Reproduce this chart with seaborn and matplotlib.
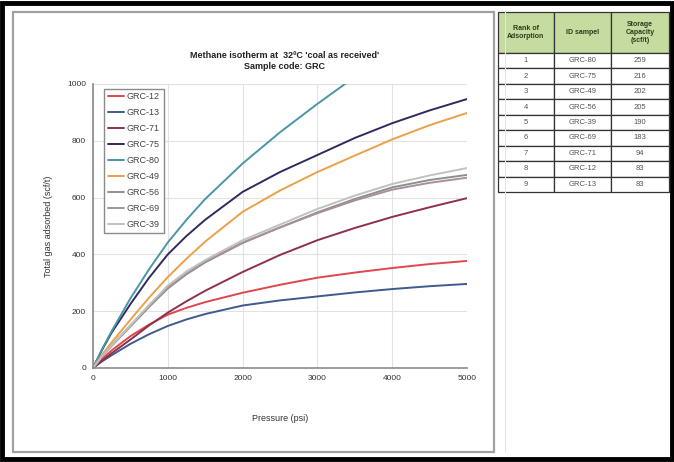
import matplotlib
matplotlib.use("Agg")
import matplotlib.pyplot as plt
import pandas as pd
import seaborn as sns
from matplotlib.patches import Rectangle

# pressure steps (psi)
pressure = [0, 125, 250, 500, 750, 1000, 1250, 1500, 2000, 2500, 3000, 3500, 4000, 4500, 5000]

# adsorbed gas (scf/t)
grc12 = [0, 33, 62, 112, 153, 188, 212, 232, 265, 293, 318, 336, 352, 366, 377]
grc13 = [0, 24, 45, 85, 119, 148, 171, 190, 220, 238, 252, 266, 278, 288, 296]
grc71 = [0, 27, 52, 100, 150, 195, 235, 272, 338, 398, 450, 493, 532, 566, 598]
grc75 = [0, 66, 125, 225, 318, 400, 465, 522, 620, 690, 750, 810, 862, 907, 947]
grc80 = [0, 68, 130, 245, 348, 442, 522, 595, 720, 830, 930, 1025, None, None, None]
grc49 = [0, 48, 90, 170, 248, 320, 385, 445, 550, 625, 690, 748, 805, 855, 898]
grc56 = [0, 42, 78, 146, 215, 280, 330, 372, 440, 495, 548, 595, 636, 662, 680]
grc69 = [0, 43, 80, 150, 220, 285, 333, 375, 442, 495, 545, 590, 628, 652, 670]
grc39 = [0, 43, 80, 150, 222, 290, 340, 380, 450, 505, 560, 607, 648, 678, 704]

series = {
    "GRC-12": grc12, "GRC-13": grc13, "GRC-71": grc71, "GRC-75": grc75,
    "GRC-80": grc80, "GRC-49": grc49, "GRC-56": grc56, "GRC-69": grc69,
    "GRC-39": grc39,
}
colors = ["#e0474c", "#3f5a8f", "#8e2f4f", "#2f2b5f", "#4a96a6",
          "#eba04a", "#8f8f8f", "#a88f9e", "#bfc3bb"]

# ranking table
rank = ["1", "2", "3", "4", "5", "6", "7", "8", "9"]
sample_id = ["GRC-80", "GRC-75", "GRC-49", "GRC-56", "GRC-39",
             "GRC-69", "GRC-71", "GRC-12", "GRC-13"]
capacity = ["259", "216", "202", "205", "190", "183", "94", "83", "83"]

rows = []
for name, vals in series.items():
    for p, v in zip(pressure, vals):
        if v is not None:
            rows.append({"Pressure": p, "Gas": v, "Sample": name})
df = pd.DataFrame(rows)

sns.set_style("white")
plt.rcParams["font.family"] = ["Liberation Sans", "DejaVu Sans"]

W, H = 674, 462
fig = plt.figure(figsize=(W / 100, H / 100), dpi=100)

# outer black frame and grey chart panel
fig.patches.append(Rectangle((2 / W, 3 / H), 670 / W, 456 / H, transform=fig.transFigure,
                             fill=False, edgecolor="black", linewidth=3.5))
fig.patches.append(Rectangle((13 / W, 1 - 452 / H), 481 / W, 440 / H, transform=fig.transFigure,
                             fill=False, edgecolor="#a0a0a0", linewidth=1.6))
fig.add_artist(plt.Line2D([505 / W, 505 / W], [1 - 452 / H, 1 - 10 / H],
                          transform=fig.transFigure, color="#e4e4e4", lw=0.8))

ax = fig.add_axes([93 / W, 1 - 368 / H, 374 / W, 284 / H])
sns.lineplot(data=df, x="Pressure", y="Gas", hue="Sample", palette=colors,
             linewidth=1.4, ax=ax, legend=True)
ax.set_xlim(0, 5000)
ax.set_ylim(0, 1000)
ax.set_xticks(range(0, 5001, 1000))
ax.set_yticks(range(0, 1001, 200))
ax.grid(True, color="#e2e2e2", linewidth=0.8)
for s in ["top", "right"]:
    ax.spines[s].set_visible(False)
for s in ["left", "bottom"]:
    ax.spines[s].set_color("#8a8a8a")
    ax.spines[s].set_linewidth(1.2)
ax.tick_params(labelsize=6, colors="#333333", length=3, direction="inout", width=0.8)
ax.set_xlabel("Pressure (psi)", fontsize=6.5, color="#333333", labelpad=23)
ax.set_ylabel("Total gas adsorbed (scf/t)", fontsize=6.5, color="#333333", labelpad=10)

leg = ax.legend(loc="upper left", bbox_to_anchor=(0.018, 1.0), fontsize=6.5,
                handlelength=1.8, handletextpad=0.3, labelspacing=0.78,
                borderpad=0.4, fancybox=False, framealpha=1)
leg.get_frame().set_edgecolor("#8a8a8a")
leg.get_frame().set_linewidth(1.0)
for t in leg.get_texts():
    t.set_color("#444444")

fig.text(285 / W, 1 - 61 / H, "Methane isotherm at  32ºC 'coal as received'\nSample code: GRC",
         ha="center", va="center", fontsize=6.5, fontweight="bold", color="#222222",
         linespacing=1.2)

# ranking table
tax = fig.add_axes([498 / W, 1 - 192 / H, 171 / W, 180 / H])
tax.axis("off")
cells = [[r, s, c] for r, s, c in zip(rank, sample_id, capacity)]
tbl = tax.table(cellText=cells,
                colLabels=["Rank of\nAdsorption", "ID sampel", "Storage\nCapacity\n(scf/t)"],
                colWidths=[56 / 171, 57 / 171, 58 / 171], cellLoc="center",
                bbox=[0, 0, 1, 1])
tbl.auto_set_font_size(False)
for (r, c), cell in tbl.get_celld().items():
    cell.set_edgecolor("#333333")
    cell.set_linewidth(0.9)
    if r == 0:
        cell.set_facecolor("#c5dba0")
        cell.set_height(41 / 180)
        cell.get_text().set_fontsize(5)
        cell.get_text().set_fontweight("bold")
        cell.get_text().set_color("#2d3a1a")
    else:
        cell.set_height(139 / 9 / 180)
        cell.get_text().set_fontsize(5.5)
        cell.get_text().set_color("#555555")

fig.savefig("out.png", dpi=100)
